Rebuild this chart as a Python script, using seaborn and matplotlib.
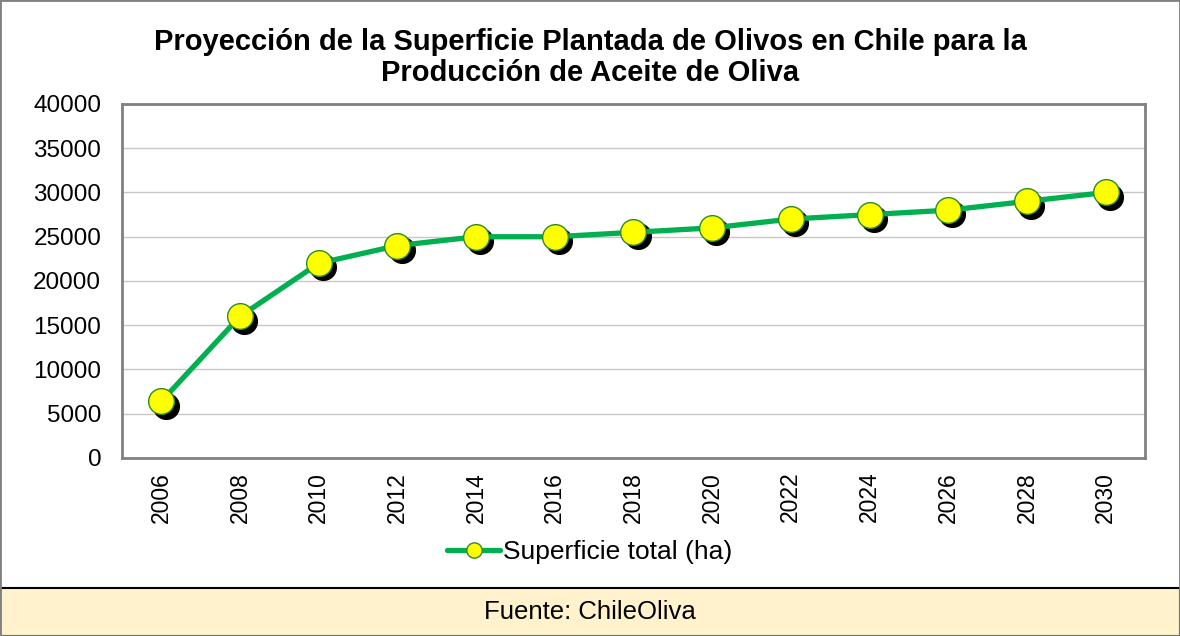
import pandas as pd
import seaborn as sns
import matplotlib.pyplot as plt
import matplotlib.transforms as mtransforms
from matplotlib.patches import Rectangle

years = ["2006", "2008", "2010", "2012", "2014", "2016", "2018",
         "2020", "2022", "2024", "2026", "2028", "2030"]
superficie = [6400, 16000, 22000, 24000, 25000, 25000, 25500,
              26000, 27000, 27500, 28000, 29000, 30000]

df = pd.DataFrame({"year": years, "ha": superficie})
df["pos"] = range(len(years))

sns.set_style("white")
plt.rcParams["font.family"] = ["Liberation Sans", "DejaVu Sans"]
plt.rcParams["text.color"] = "black"
plt.rcParams["xtick.color"] = "black"
plt.rcParams["ytick.color"] = "black"

fig = plt.figure(figsize=(11.8, 6.36), dpi=100)
ax = fig.add_axes([0.1034, 0.2799, 0.8669, 0.5566])

# shadow of the markers
shadow = mtransforms.offset_copy(ax.transData, fig=fig, x=3, y=-3, units="points")
ax.plot(df["pos"], df["ha"], linestyle="none", marker="o", markersize=18.5,
        color="black", transform=shadow, zorder=3)

sns.lineplot(data=df, x="pos", y="ha", ax=ax, color="#00B050", linewidth=3.8,
             marker="o", markersize=18.5, markerfacecolor="#FFFF00",
             markeredgecolor="#2E8B22", markeredgewidth=1,
             label="Superficie total (ha)", zorder=4)

ax.set_xlim(-0.5, len(years) - 0.5)
ax.set_ylim(0, 40000)
ax.set_yticks(range(0, 40001, 5000))
ax.set_yticklabels([str(v) for v in range(0, 40001, 5000)], fontsize=17.5)
ax.set_xticks(df["pos"])
ax.set_xticklabels(years, rotation=90, fontsize=16.5)
ax.set_xlabel("")
ax.set_ylabel("")
ax.yaxis.grid(True, color="#C8C8C8", linewidth=1)
ax.set_axisbelow(True)
for s in ax.spines.values():
    s.set_color("#808080")
    s.set_linewidth(2)
ax.tick_params(axis="y", length=0, pad=15)
ax.tick_params(axis="x", length=0, pad=10)

leg = ax.legend(loc="center", bbox_to_anchor=(0.4575, -0.265), frameon=False,
                fontsize=19, handlelength=2.0, handletextpad=0.12, borderaxespad=0)
for h in leg.legend_handles:
    h.set_markersize(11)

fig.text(0.5, 0.910, "Proyección de la Superficie Plantada de Olivos en Chile para la\nProducción de Aceite de Oliva",
         ha="center", va="center", fontsize=21, fontweight="bold", linespacing=1.15)

# source box
fig.patches.append(Rectangle((0, 0), 1, 48 / 636, transform=fig.transFigure,
                             facecolor="#FFF2CC", edgecolor="black", linewidth=1.5))
fig.text(0.5, 24 / 636, "Fuente: ChileOliva", ha="center", va="center", fontsize=18.5)

# outer border
fig.patches.append(Rectangle((0, 0), 1, 1, transform=fig.transFigure,
                             facecolor="none", edgecolor="#808080", linewidth=2))

fig.savefig("out.png", dpi=100)
